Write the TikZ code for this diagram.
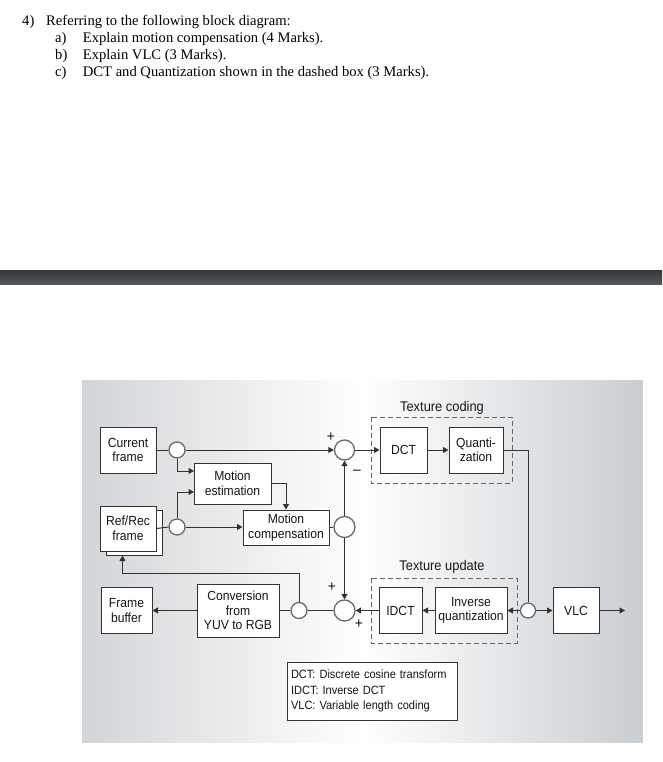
\documentclass[tikz,border=0pt]{standalone}
\usepackage{fontspec}
\setmainfont{Liberation Serif}
\newfontfamily\diagfont[FakeStretch=0.92]{Liberation Sans}
\usetikzlibrary{arrows.meta,calc}
\definecolor{ln}{HTML}{333333}
\definecolor{cl}{HTML}{6A6A6A}
\definecolor{dl}{HTML}{666666}
\definecolor{tx}{HTML}{161616}
\definecolor{pl}{HTML}{D2D5D8}
\definecolor{pr}{HTML}{C9CED2}
\definecolor{bt}{HTML}{34373A}
\definecolor{bb}{HTML}{52575B}
\begin{document}
\begin{tikzpicture}[x=1pt,y=-1pt,
  qtext/.style={font=\fontsize{14.6}{17}\selectfont, inner sep=0pt, anchor=base west, text=black},
  blk/.style={draw=ln, line width=1pt, fill=white, inner sep=0pt, align=center, text=tx,
    font=\diagfont\fontsize{13.2}{14.5}\selectfont},
  sumc/.style={circle, draw=cl, line width=1.3pt, fill=white, inner sep=0pt},
  conn/.style={draw=ln, line width=1pt},
  ar/.style={conn, -{Triangle[length=5.5pt,width=6pt]}},
  dbox/.style={draw=dl, line width=1pt, dash pattern=on 5pt off 3pt},
  lab/.style={text=tx, inner sep=0pt, font=\diagfont\fontsize{14}{16}\selectfont},
  sgn/.style={text=tx, inner sep=0pt, font=\diagfont\fontsize{15}{15}\selectfont}
]
\useasboundingbox (0,0) rectangle (662,762);
\fill[white] (0,0) rectangle (662,762);

% question text
\node[qtext] (q0) at (22,25.7) {4)};
\node[qtext] (q1) at (46,25.7) {Referring to the following block diagram:};
\node[qtext] (qa) at (55,42.5) {a)};
\node[qtext] (qat) at (82.7,42.5) {Explain motion compensation (4 Marks).};
\node[qtext] (qb) at (55,59.4) {b)};
\node[qtext] (qbt) at (82.7,59.4) {Explain VLC (3 Marks).};
\node[qtext] (qc) at (55,76.3) {c)};
\node[qtext] (qct) at (82.7,76.3) {DCT and Quantization shown in the dashed box (3 Marks).};

% dark bar
\shade[top color=bt, bottom color=bb] (0,270) rectangle (662,284);

% panel
\shade[left color=pl, right color=pr, middle color=white] (82,380) rectangle (642.7,742);

% dashed boxes
\draw[dbox] (371,417) rectangle (512,483);
\draw[dbox] (371,578) rectangle (517,643);
\node[lab] (tc) at (442,408) {Texture coding};
\node[lab] (tu) at (442,567) {Texture update};

% blocks
\node[blk, minimum width=56pt, minimum height=46pt] (cur) at (128,450) {Current\\frame};
\node[blk, minimum width=77pt, minimum height=41pt] (me) at (232.5,483.5) {Motion\\estimation};
\node[blk, minimum width=56pt, minimum height=45pt] (refback) at (134,532.5) {};
\node[blk, minimum width=56pt, minimum height=45pt] (ref) at (128,528.5) {Ref/Rec\\frame};
\node[blk, minimum width=86pt, minimum height=35pt] (mc) at (286,527.5) {Motion\\compensation};
\node[blk, minimum width=47pt, minimum height=46pt] (dct) at (403.5,450) {DCT};
\node[blk, minimum width=54pt, minimum height=46pt] (qz) at (476,450) {Quanti-\\zation};
\node[blk, minimum width=43pt, minimum height=46pt] (idct) at (400.5,610.5) {IDCT};
\node[blk, minimum width=72pt, minimum height=46pt] (iq) at (471,610.5) {Inverse\\quantization};
\node[blk, minimum width=46pt, minimum height=46pt] (vlc) at (576,610.5) {VLC};
\node[blk, minimum width=51pt, minimum height=46pt] (fb) at (126.5,610.5) {Frame\\buffer};
\node[blk, minimum width=82pt, minimum height=53pt] (conv) at (238,610.5) {Conversion\\from\\YUV to RGB};
\node[blk, minimum width=170pt, minimum height=58pt, align=left, text width=162pt,
  font=\diagfont\fontsize{12}{15.5}\selectfont] (leg) at (372,691)
  {DCT: Discrete cosine transform\\IDCT: Inverse DCT\\VLC: Variable length coding};

% circles
\node[sumc, minimum size=16pt] (c1) at (177,450) {};
\node[sumc, minimum size=16pt] (c2) at (177,527) {};
\node[sumc, minimum size=20pt] (s1) at (344.5,450) {};
\node[sumc, minimum size=21pt] (c3) at (344.5,527) {};
\node[sumc, minimum size=21pt] (s2) at (344.5,610.5) {};
\node[sumc, minimum size=16pt] (c4) at (299,610.5) {};
\node[sumc, minimum size=15pt] (c5) at (528,610.5) {};

% helper coordinates
\coordinate (mein1) at (194,471);
\coordinate (mein2) at (194,492);
\coordinate (fbk) at (122.5,573);
\coordinate (out) at (625,610.5);

% connectors
\draw[conn] (cur.east) -- (c1.west);
\draw[ar] (c1.east) -- (s1.west);
\draw[ar] (c1.south) |- (mein1);
\draw[ar] (c2.north) |- (mein2);
\draw[conn] (ref.east) -- (c2.west);
\draw[ar] (c2.east) -- (mc.west |- c2.east);
\draw[ar] (me.east) -| (mc.north);
\draw[conn] (mc.east |- c3.west) -- (c3.west);
\draw[ar] (c3.north) -- (s1.south);
\draw[ar] (c3.south) -- (s2.north);
\draw[ar] (s1.east) -- (dct.west);
\draw[ar] (dct.east) -- (qz.west);
\draw[conn] (qz.east) -| (c5.north);
\draw[ar] (c5.west) -- (iq.east);
\draw[ar] (c5.east) -- (vlc.west);
\draw[ar] (vlc.east) -- (out);
\draw[ar] (iq.west) -- (idct.east);
\draw[ar] (idct.west) -- (s2.east);
\draw[conn] (s2.west) -- (c4.east);
\draw[conn] (c4.west) -- (conv.east);
\draw[ar] (conv.west) -- (fb.east);
\draw[ar] (c4.north) |- (fbk) -- (fbk |- refback.south);

% signs
\node[sgn] (p1) at (331,437) {+};
\node[sgn] (m1) at (357,472) {\textendash};
\node[sgn] (p2) at (332,587) {+};
\node[sgn] (p3) at (359,624) {+};
\end{tikzpicture}
\end{document}
